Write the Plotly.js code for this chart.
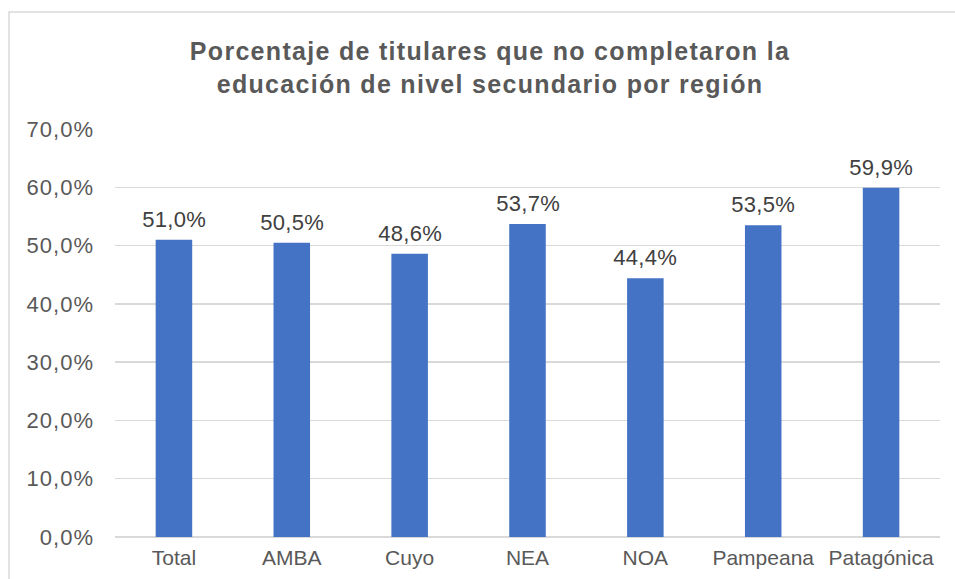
<!DOCTYPE html>
<html><head><meta charset="utf-8">
<script src="https://cdn.plot.ly/plotly-3.0.1.min.js"></script>
<style>html,body{margin:0;padding:0;background:#fff}#c{width:955px;height:579px}
#c text.gtitle{letter-spacing:1.3px}
#c .ytick text{letter-spacing:1px}
#c .annotation-text{letter-spacing:0.3px}
</style>
</head><body><div id="c"></div>
<script>
const categories = ["Total","AMBA","Cuyo","NEA","NOA","Pampeana","Patagónica"];
const values = [51.0, 50.5, 48.6, 53.7, 44.4, 53.5, 59.9];
const tickVals = [0,10,20,30,40,50,60,70];
const tickText = ["0,0%","10,0%","20,0%","30,0%","40,0%","50,0%","60,0%","70,0%"];
const fmt = v => v.toFixed(1).replace('.', ',') + '%';

const font = "Liberation Sans, Arial, sans-serif";
const trace = {
  type: 'bar', x: categories, y: values,
  marker: {color: '#4472C4'},
  hoverinfo: 'none'
};
const annotations = categories.map((c,i)=>({
  x: c, y: values[i], xref:'x', yref:'y', text: fmt(values[i]),
  showarrow:false, yanchor:'bottom', yshift:6,
  font:{family:font, size:22, color:'#404040'}
}));
const layout = {
  width:955, height:579,
  margin:{l:115, r:15, t:129, b:42},
  paper_bgcolor:'#fff', plot_bgcolor:'#fff',
  bargap:0.69,
  showlegend:false,
  title:{text:'<b>Porcentaje de titulares que no completaron la<br>educación de nivel secundario por región</b>',
    x:490/955, xref:'container', xanchor:'center',
    y:1-60/579, yref:'container', yanchor:'top',
    font:{family:font, size:25, color:'#595959'}},
  xaxis:{type:'category', showgrid:false, zeroline:false, showline:false, ticks:'',
    tickfont:{family:font, size:21, color:'#595959'}, ticklabelstandoff:6, fixedrange:true},
  yaxis:{range:[0,70], tickvals:tickVals, ticktext:tickText, showgrid:true,
    gridcolor:'#d9d9d9', gridwidth:1.5, zeroline:true, zerolinecolor:'#d9d9d9', zerolinewidth:1.5,
    showline:false, ticks:'', tickfont:{family:font, size:22, color:'#595959'},
    ticklabelstandoff:20, fixedrange:true},
  annotations: annotations,
  shapes:[{type:'rect', xref:'paper', yref:'paper',
    x0:(9-115)/825, x1:1.2, y0:-0.3, y1:(537-12)/408,
    line:{color:'#d9d9d9', width:1.5}, fillcolor:'rgba(0,0,0,0)', layer:'below'}]
};
Plotly.newPlot('c',[trace],layout,{staticPlot:true});
</script></body></html>
